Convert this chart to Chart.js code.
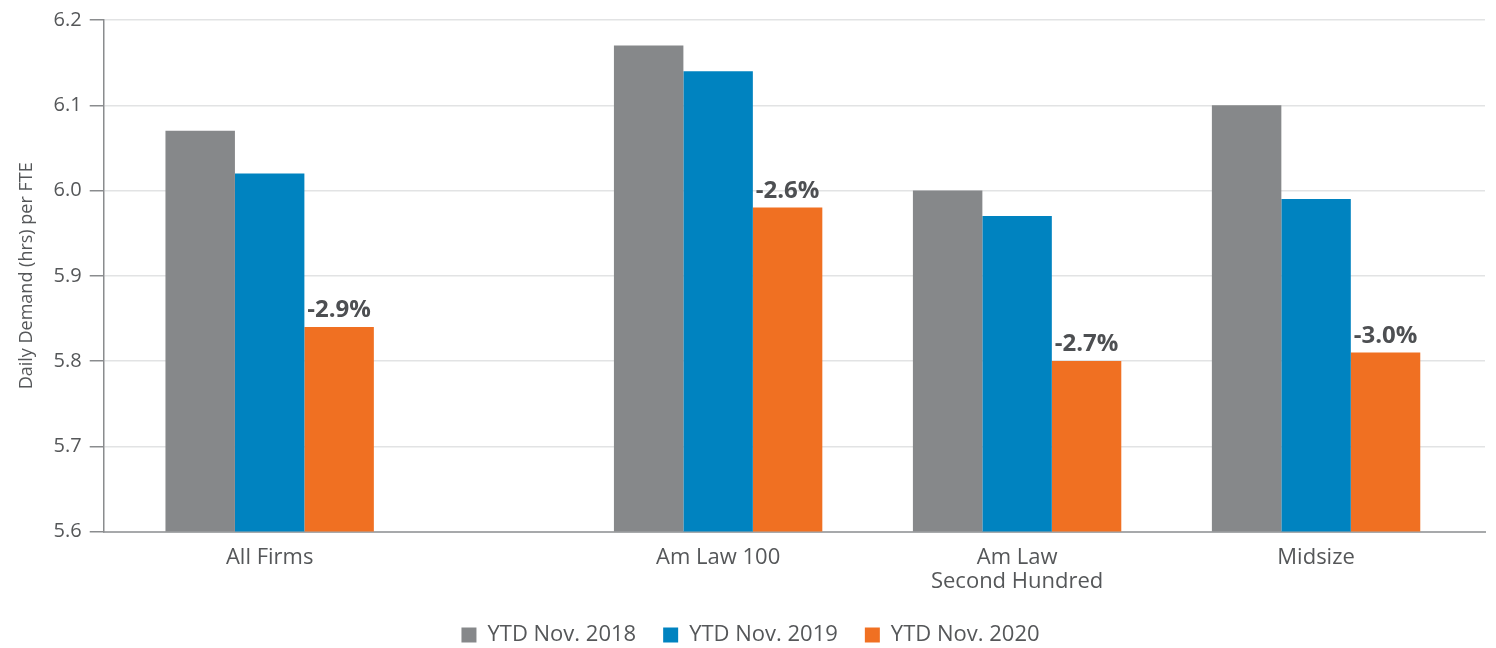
<!DOCTYPE html>
<html>
<head>
<meta charset="utf-8">
<script src="https://cdn.jsdelivr.net/npm/chart.js@4"></script>
<style>
    html, body { margin: 0; padding: 0; background: #fff; }
    #wrap { width: 1496px; height: 648px; }
</style>
</head>
<body>
<div id="wrap"><canvas id="m_chart_demand"></canvas></div>
<script>
// category names (x axis) and where each group sits along the axis
var categories = ['All Firms', 'Am Law 100', ['Am Law', 'Second Hundred'], 'Midsize'];
var slots = [0, 1.5, 2.5, 3.5];

// series values, daily demand (hrs) per FTE
var ytd2018 = [6.07, 6.17, 6.00, 6.10];
var ytd2019 = [6.02, 6.14, 5.97, 5.99];
var ytd2020 = [5.84, 5.98, 5.80, 5.81];

// change labels printed above the 2020 bars
var changeLabels = ['-2.9%', '-2.6%', '-2.7%', '-3.0%'];

// y axis ticks
var yTicks = [5.6, 5.7, 5.8, 5.9, 6.0, 6.1, 6.2];

var fontName = "'Open Sans', 'Noto Sans', sans-serif";
var textColor = '#555759';

var toPoints = function (values) {
    return slots.map(function (x, i) {
        return { x: x, y: values[i] };
    });
};

var changeLabelPlugin = {
    id: 'changeLabels',
    afterDatasetsDraw: function (chart) {
        var meta = chart.getDatasetMeta(2);
        var ctx = chart.ctx;
        ctx.save();
        ctx.font = 'bold 24px ' + fontName;
        ctx.fillStyle = '#4d4f52';
        ctx.textAlign = 'center';
        ctx.textBaseline = 'alphabetic';
        for (var i = 0; i < meta.data.length; i++) {
            var bar = meta.data[i];
            ctx.fillText(changeLabels[i], bar.x, bar.y - 10);
        }
        ctx.restore();
    }
};

var data = {
    datasets: [{
        label: 'YTD Nov. 2018',
        data: toPoints(ytd2018),
        backgroundColor: '#86888a'
    }, {
        label: 'YTD Nov. 2019',
        data: toPoints(ytd2019),
        backgroundColor: '#0083c0'
    }, {
        label: 'YTD Nov. 2020',
        data: toPoints(ytd2020),
        backgroundColor: '#f07022'
    }]
};

new Chart(document.getElementById('m_chart_demand'), {
    type: 'bar',
    data: data,
    plugins: [changeLabelPlugin],
    options: {
        responsive: true,
        maintainAspectRatio: false,
        animation: false,
        layout: { padding: { top: -1, right: 11, left: 16, bottom: -8 } },
        datasets: {
            bar: { barPercentage: 1, categoryPercentage: 0.697, borderWidth: 0 }
        },
        plugins: {
            tooltip: { enabled: false },
            legend: {
                position: 'bottom',
                labels: {
                    font: { family: fontName, size: 22 },
                    color: textColor,
                    boxWidth: 15,
                    boxHeight: 15,
                    padding: 27
                }
            }
        },
        scales: {
            x: {
                type: 'linear',
                offset: false,
                min: -0.555,
                max: 4.065,
                afterBuildTicks: function (axis) {
                    axis.ticks = slots.map(function (v) { return { value: v }; });
                },
                afterFit: function (axis) {
                    axis.height -= 11;
                },
                ticks: {
                    autoSkip: false,
                    maxRotation: 0,
                    padding: 14,
                    color: textColor,
                    font: { family: fontName, size: 22, lineHeight: 1.1 },
                    callback: function (value, index) {
                        return categories[index];
                    }
                },
                grid: { display: false, drawTicks: false },
                border: { display: true, color: '#a7a9ab', width: 2 }
            },
            y: {
                min: 5.6,
                max: 6.2,
                afterBuildTicks: function (axis) {
                    axis.ticks = yTicks.map(function (v) { return { value: v }; });
                },
                ticks: {
                    padding: 8,
                    color: textColor,
                    font: { family: fontName, size: 20 },
                    callback: function (value) {
                        return value.toFixed(1);
                    }
                },
                grid: {
                    color: '#e2e3e4',
                    lineWidth: 1.5,
                    tickLength: 14,
                    tickColor: '#8a8c8e',
                    tickWidth: 1.5
                },
                border: { display: true, color: '#8a8c8e', width: 1.5 },
                title: {
                    display: true,
                    text: 'Daily Demand (hrs) per FTE',
                    color: textColor,
                    font: { family: fontName, size: 18 },
                    padding: { top: 0, bottom: 8 }
                }
            }
        }
    }
});
</script>
</body>
</html>
